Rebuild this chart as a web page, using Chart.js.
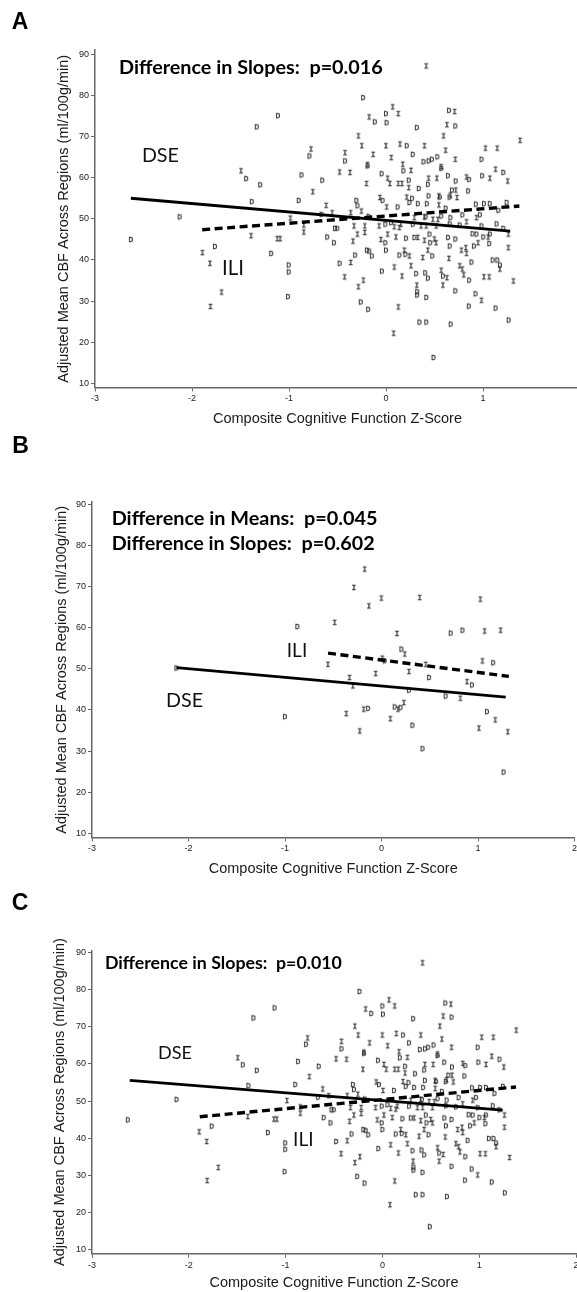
<!DOCTYPE html>
<html><head><meta charset="utf-8">
<script src="https://cdn.jsdelivr.net/npm/chart.js@4.4.1/dist/chart.umd.min.js"></script>
<style>
html,body{margin:0;padding:0;background:#fff;}
body{width:577px;height:1292px;overflow:hidden;position:relative;font-family:"Liberation Sans",Arial,sans-serif;}
canvas{position:absolute;left:0;}
.t{position:absolute;white-space:pre;color:#111;line-height:1;}
.c{transform:translate(-50%,-50%);}
.l{transform:translate(0,-50%);}
.letter{font-weight:bold;font-size:23px;font-family:"Liberation Sans",Arial,sans-serif;color:#000;}
.ann{font-weight:bold;font-size:18px;font-family:Lato,"Open Sans",sans-serif;color:#000;}
.grp{font-size:20px;font-family:Lato,"Open Sans",sans-serif;}
</style>
</head><body>
<canvas id="cA"></canvas>
<canvas id="cB"></canvas>
<canvas id="cC"></canvas>

<div class="t c letter" style="left:20px;top:20.8px">A</div>
<div class="t c letter" style="left:20.5px;top:444.5px">B</div>
<div class="t c letter" style="left:20px;top:902px">C</div>

<div class="t l ann fit" data-w="264" style="left:119px;top:67px">Difference in Slopes:  p=0.016</div>
<div class="t c grp fit" data-w="37" style="left:160.4px;top:155px">DSE</div>
<div class="t c grp fit" data-w="22" style="left:233px;top:266.7px">ILI</div>

<div class="t l ann fit" data-w="266" style="left:111.7px;top:517.7px">Difference in Means:  p=0.045</div>
<div class="t l ann fit" data-w="263" style="left:111.7px;top:542.7px">Difference in Slopes:  p=0.602</div>
<div class="t c grp fit" data-w="20.5" style="left:297px;top:650px">ILI</div>
<div class="t c grp fit" data-w="37" style="left:184.5px;top:700px">DSE</div>

<div class="t l ann fit" data-w="237" style="left:105px;top:963px">Difference in Slopes:  p=0.010</div>
<div class="t c grp fit" data-w="34" style="left:175px;top:1051.7px">DSE</div>
<div class="t c grp fit" data-w="20.5" style="left:303.3px;top:1139px">ILI</div>

<script>
// ---------- DATA ----------
const xTitle = "Composite Cognitive Function Z-Score";
const yTitle = "Adjusted Mean CBF Across Regions (ml/100g/min)";
const yTickValues = [10, 20, 30, 40, 50, 60, 70, 80, 90];
const yTickLabels = ["10", "20", "30", "40", "50", "60", "70", "80", "90"];
const xTickValuesA = [-3, -2, -1, 0, 1];
const xTickLabelsA = ["-3", "-2", "-1", "0", "1"];
const xTickValuesBC = [-3, -2, -1, 0, 1, 2];
const xTickLabelsBC = ["-3", "-2", "-1", "0", "1", "2"];

// Panels A and C: full sample, "D" = DSE, "I" = ILI
const allDseX = [-1.114,-1.332,-0.789,-1.442,-1.297,-0.871,-1.384,-0.9,-2.127,-2.63,-1.763,-1.183,-1.003,-1.003,-1.01,
 -0.236,0.0,-0.115,0.006,0.65,0.715,0.318,0.214,-0.422,0.276,0.387,0.439,0.473,0.529,0.985,-0.19,0.18,0.57,-0.657,-0.045,
 0.235,0.338,0.432,0.639,0.719,0.857,0.992,1.21,-0.305,-0.035,0.269,0.439,0.555,0.655,0.681,0.847,-0.294,0.12,0.241,0.328,
 0.421,0.615,0.926,1.01,1.07,1.158,1.244,-0.664,-0.526,-0.502,-0.007,0.052,0.276,0.408,0.664,0.57,0.657,0.76,0.788,0.968,
 0.985,1.14,1.21,-0.606,-0.536,-0.007,0.207,0.293,0.449,0.456,0.64,0.657,0.715,0.892,0.933,0.906,1.003,1.065,1.071,-0.318,
 -0.197,-0.173,-0.146,0.0,0.138,0.2,0.477,0.881,1.1,1.148,1.175,-0.478,-0.042,0.311,0.404,0.432,0.321,0.321,0.415,0.587,
 0.857,0.715,0.923,0.854,1.13,-0.26,-0.184,0.345,0.415,0.667,1.265,0.49,-0.18];
const allDseY = [75.2,72.5,65.4,59.9,58.4,60.8,54.3,54.6,50.6,45.1,43.4,41.7,38.9,37.2,31.2,
 79.6,75.7,73.7,73.5,76.5,72.7,72.3,67.9,64.2,65.8,64.0,64.2,64.6,65.2,64.6,63.0,61.8,62.4,59.5,61.1,
 59.5,57.5,58.5,60.6,59.3,59.7,60.6,61.4,54.6,54.6,55.1,55.7,55.4,55.4,57.1,56.9,53.3,53.0,54.1,53.8,
 53.8,52.7,53.7,53.8,53.8,52.2,54.1,51.2,47.8,47.8,48.8,49.2,48.8,50.6,50.4,50.8,48.9,48.6,51.1,51.1,
 48.4,48.9,47.8,45.7,44.3,44.3,45.4,45.6,46.4,44.3,45.6,43.5,45.2,46.5,46.4,43.5,45.7,44.1,46.4,41.3,
 42.5,42.3,41.1,42.5,41.3,41.5,41.1,39.6,40.1,40.1,38.9,39.3,37.4,36.8,37.0,35.7,32.4,31.6,31.0,36.2,
 35.2,32.6,31.9,28.9,28.4,29.9,28.1,25.0,25.0,24.5,25.5,16.4,50.7];
const allIliX = [-0.772,-1.494,-0.754,-0.985,-0.847,-0.847,-1.39,-1.12,-1.09,-1.892,-1.815,-1.695,-1.809,
 0.415,0.069,0.127,-0.173,0.708,0.629,-0.284,0.594,1.383,-0.249,0.0,0.145,0.397,-0.422,-0.132,0.055,0.615,1.026,1.147,
 0.715,-0.478,-0.37,-0.19,0.173,0.259,0.57,1.13,0.017,0.041,0.127,0.165,0.235,-0.201,0.439,0.525,0.83,1.071,1.255,
 -0.063,0.214,0.546,0.664,0.733,0.72,-0.616,-0.253,-0.363,-0.554,0.007,0.546,-0.329,-0.218,-0.218,-0.07,0.086,0.138,
 0.155,0.363,0.415,0.518,0.293,0.397,0.484,0.536,0.83,0.933,1.262,-0.294,-0.339,-0.052,0.017,0.103,0.328,0.397,0.5,
 0.518,0.778,0.823,0.83,0.95,1.054,1.262,0.19,0.242,0.38,0.432,0.65,1.175,-0.363,-0.426,-0.232,-0.284,0.086,0.166,
 0.259,0.318,0.57,0.629,0.587,0.76,0.788,0.802,1.01,1.065,1.314,0.985,0.128,0.079];
const allIliY = [67.1,61.8,56.7,50.3,48.6,46.9,46.0,45.3,45.3,41.9,39.3,32.3,28.8,
 87.3,77.35,75.7,74.9,76.2,73.0,70.3,70.3,69.2,67.9,67.9,68.3,67.9,66.2,65.8,65.0,66.8,67.3,67.3,
 64.6,61.5,61.4,63.3,63.4,61.9,62.8,62.2,60.0,58.7,58.7,58.7,57.7,58.7,60.0,60.0,60.3,60.0,59.3,
 55.3,55.4,55.7,55.9,55.3,57.1,53.4,52.0,51.6,51.6,53.0,53.5,48.4,48.4,46.8,48.4,48.2,48.0,
 48.8,48.4,48.4,48.4,50.4,50.6,50.0,50.0,49.4,50.4,46.4,46.4,44.7,45.1,46.4,45.7,45.6,44.9,45.2,
 44.3,42.5,43.1,41.7,44.3,45.7,43.1,42.5,41.1,40.7,42.5,40.5,37.9,39.5,36.0,35.2,33.6,38.4,36.2,
 38.7,34.0,37.6,35.8,34.0,38.7,37.9,36.5,36.0,36.0,35.0,30.3,28.7,22.3];

// Panel B: subsample
const bDseX = [-2.125,-0.872,0.717,0.839,0.206,0.033,0.493,1.157,0.285,0.665,0.938,-1.0,-0.139,0.137,0.197,0.321,0.425,1.093,1.265];
const bDseY = [50.3,60.4,58.8,59.5,54.9,52.05,48.0,51.6,44.9,43.5,46.2,38.5,40.5,40.85,40.7,36.4,30.7,39.7,25.0];
const bIliX = [-0.174,-0.285,-0.001,-0.13,0.396,1.025,-0.485,0.161,1.069,1.235,0.241,-0.554,0.009,0.285,0.458,1.046,-0.06,
 -0.331,-0.296,0.818,0.887,-0.364,-0.225,-0.184,0.172,0.232,0.092,1.01,1.18,1.309];
const bIliY = [74.35,69.9,67.3,65.4,67.45,67.05,61.4,58.7,59.3,59.5,53.7,51.2,52.7,49.45,51.2,52.05,48.97,
 48.0,45.96,42.96,47.0,39.23,35.0,40.3,40.3,41.9,38.0,35.7,37.7,34.8];

// Fitted lines (endpoints)
const aDseLineX = [-2.63, 1.28],  aDseLineY = [55.0, 47.0];
const aIliLineX = [-1.895, 1.375], aIliLineY = [47.35, 53.1];
const bDseLineX = [-2.125, 1.287], bDseLineY = [50.3, 43.1];
const bIliLineX = [-0.554, 1.32], bIliLineY = [53.8, 48.15];
const cDseLineX = [-2.61, 1.243], cDseLineY = [55.6, 47.6];
const cIliLineX = [-1.887, 1.38], cIliLineY = [45.8, 53.8];

// ---------- RENDER ----------
function glyph(ch){
  const c = document.createElement('canvas'); c.width = 10; c.height = 10;
  const g = c.getContext('2d');
  g.font = '8px "Liberation Mono", "DejaVu Sans Mono", monospace';
  g.fillStyle = '#111'; g.strokeStyle = '#333'; g.lineWidth = 0.35;
  g.textAlign = 'center'; g.textBaseline = 'middle';
  g.fillText(ch, 5, 5.5);
  g.strokeText(ch, 5, 5.5);
  return c;
}
const glyphD = glyph('D'), glyphI = glyph('I');
const pts = (xs, ys) => xs.map((x, i) => ({x, y: ys[i]}));

function panel(p){
  const W = 590;
  const cv = document.getElementById(p.id);
  cv.width = W; cv.height = p.h;
  cv.style.width = W + 'px'; cv.style.height = p.h + 'px'; cv.style.top = p.top + 'px';
  const xh = p.top + p.h - p.B;
  const lh = 14.5 * 1.2;
  new Chart(cv, {
    type: 'scatter',
    data: {datasets: [
      {data: pts(p.dlx, p.dly), showLine: true, borderColor: '#000', borderWidth: 2.8, pointRadius: 0, order: 0},
      {data: pts(p.ilx, p.ily), showLine: true, borderColor: '#000', borderWidth: 3.4, borderDash: [8, 4.5], pointRadius: 0, order: 0},
      {data: pts(p.dx, p.dy), pointStyle: glyphD, pointRadius: 4, order: 1},
      {data: pts(p.ix, p.iy), pointStyle: glyphI, pointRadius: 4, order: 1}
    ]},
    options: {
      responsive: false, animation: false, events: [],
      layout: {padding: {left: 0, right: W - p.R, top: p.T - p.top, bottom: 0}},
      plugins: {legend: {display: false}, tooltip: {enabled: false}},
      scales: {
        x: {
          type: 'linear', min: -3, max: 2,
          afterBuildTicks: s => { s.ticks = p.xv.map(v => ({value: v})); },
          afterFit: s => { s.height = xh; },
          grid: {display: true, drawOnChartArea: false, drawTicks: true, tickLength: 4, color: '#666', lineWidth: 1},
          border: {display: true, color: '#666', width: 1.5},
          ticks: {autoSkip: false, maxRotation: 0, padding: 2, color: '#222',
                  font: {size: 9, family: '"Liberation Sans", Arial'},
                  callback: v => { const i = p.xv.indexOf(v); return i >= 0 ? p.xl[i] : ''; }},
          title: {display: true, text: xTitle, color: '#1a1a1a', font: {size: 14.5, family: '"Liberation Sans", Arial'},
                  padding: {top: 0, bottom: (p.top + p.h) - p.xtY - lh / 2}}
        },
        y: {
          type: 'linear', min: 9, max: p.ymax,
          afterBuildTicks: s => { s.ticks = yTickValues.map(v => ({value: v})); },
          afterFit: s => { s.width = p.L; },
          grid: {display: true, drawOnChartArea: false, drawTicks: true, tickLength: 4, color: '#666', lineWidth: 1},
          border: {display: true, color: '#666', width: 1.5},
          ticks: {autoSkip: false, padding: 2, color: '#222',
                  font: {size: 9, family: '"Liberation Sans", Arial'},
                  callback: v => { const i = yTickValues.indexOf(v); return i >= 0 ? yTickLabels[i] : ''; }},
          title: {display: true, text: yTitle, color: '#1a1a1a', font: {size: 14.5, family: '"Liberation Sans", Arial'},
                  padding: {top: p.ytX - lh / 2, bottom: 0}}
        }
      }
    }
  });
}

panel({id: 'cA', top: 0, h: 440, L: 95, R: 580, T: 50.2, B: 387.4, ymax: 91, xtY: 419, ytX: 64,
  xv: xTickValuesA, xl: xTickLabelsA, dx: allDseX, dy: allDseY, ix: allIliX, iy: allIliY,
  dlx: aDseLineX, dly: aDseLineY, ilx: aIliLineX, ily: aIliLineY});
panel({id: 'cB', top: 430, h: 450, L: 92, R: 574.5, T: 502.2, B: 837.4, ymax: 90.5, xtY: 869, ytX: 62,
  xv: xTickValuesBC, xl: xTickLabelsBC, dx: bDseX, dy: bDseY, ix: bIliX, iy: bIliY,
  dlx: bDseLineX, dly: bDseLineY, ilx: bIliLineX, ily: bIliLineY});
panel({id: 'cC', top: 880, h: 412, L: 92, R: 576, T: 950.4, B: 1253.7, ymax: 90.5, xtY: 1283, ytX: 60,
  xv: xTickValuesBC, xl: xTickLabelsBC, dx: allDseX, dy: allDseY, ix: allIliX, iy: allIliY,
  dlx: cDseLineX, dly: cDseLineY, ilx: cIliLineX, ily: cIliLineY});

// fit annotation widths
document.querySelectorAll('.fit').forEach(el => {
  const target = parseFloat(el.dataset.w);
  const fs = parseFloat(getComputedStyle(el).fontSize);
  const w = el.getBoundingClientRect().width;
  if (w > 0) el.style.fontSize = (fs * target / w).toFixed(2) + 'px';
});
</script>
</body></html>
